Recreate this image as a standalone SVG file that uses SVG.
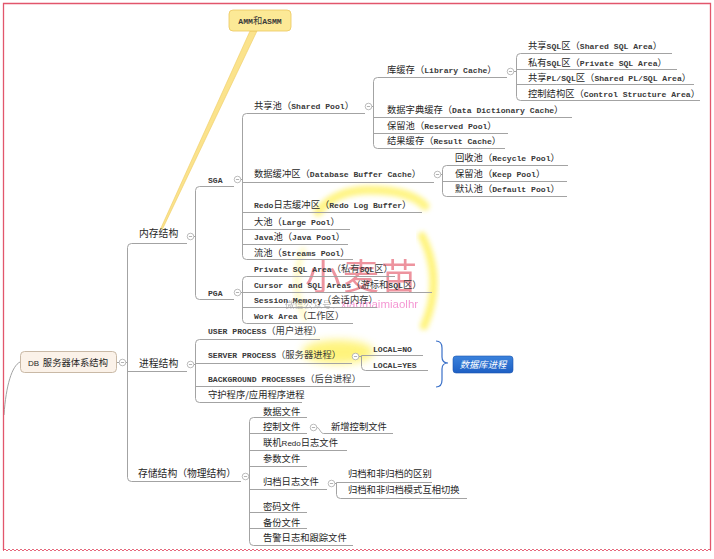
<svg xmlns="http://www.w3.org/2000/svg" xmlns:xlink="http://www.w3.org/1999/xlink" width="714" height="559" viewBox="0 0 714 559">
<defs>
<style>
text{fill:#262626}
.c{font-family:"Noto Sans CJK SC","Noto Sans",sans-serif;font-size:9.3px;font-weight:normal}
.m{font-family:"Liberation Mono","DejaVu Sans Mono",monospace;font-size:8.1px;font-weight:bold;fill:#3a3a3a}
.s{font-family:"Liberation Sans",Arial,sans-serif;font-size:8px}
.l1{font-size:9.8px}
.ln{fill:none;stroke:#a3a3a3;stroke-width:1}
.hl{fill:none;stroke:#fff266;stroke-linecap:round;filter:url(#blur)}
</style>
<filter id="blur" x="-50%" y="-50%" width="200%" height="200%"><feGaussianBlur stdDeviation="2.5"/></filter>
<filter id="blur2" x="-50%" y="-50%" width="200%" height="200%"><feGaussianBlur stdDeviation="4"/></filter>
<g id="col"><circle r="3.3" fill="#fff" stroke="#aaa" stroke-width="0.8"/><path d="M-1.6,0H1.6" stroke="#a0a0a0" stroke-width="0.8"/></g>
<pattern id="wave" x="0" y="548" width="4" height="4" patternUnits="userSpaceOnUse"><path d="M0,2 L1,1 L3,3 L4,2" fill="none" stroke="#e2566c" stroke-width="0.9"/></pattern>
<linearGradient id="blue" x1="0" y1="0" x2="0" y2="1"><stop offset="0" stop-color="#3b82dc"/><stop offset="1" stop-color="#1d5fc4"/></linearGradient>
</defs>
<rect width="714" height="559" fill="#fff"/>

<g id="highlights">
<path class="hl" d="M318,212 Q335,190 370,190 Q410,190 425,206" stroke-width="9" opacity="0.8"/>
<path class="hl" d="M422,236 Q444,280 424,326" stroke-width="8" opacity="0.85"/>
<path class="hl" d="M303,250 Q290,285 305,318" stroke-width="6" opacity="0.35"/>
<ellipse cx="338" cy="352" rx="36" ry="12" fill="#fff266" opacity="0.85" filter="url(#blur2)"/>
</g>

<g id="watermark">
<text x="305" y="290" font-family="'Noto Sans CJK SC',sans-serif" font-size="36" letter-spacing="2" style="fill:#e03c50" opacity="0.55">小麦苗</text>
<text x="285" y="308" opacity="0.7"><tspan class="c" font-size="9" style="fill:#999">微信公众号：</tspan><tspan font-family="'Liberation Sans',sans-serif" font-size="11.5" style="fill:#f06ac0">xiaomaimiaolhr</tspan></text>
</g>

<polygon points="250,31 257,31 162.5,229 160.5,229" fill="#fbe38c" stroke="#efcb62" stroke-width="0.6"/>

<g id="connectors">
<path class="ln" d="M20,362 C12,366 6,385 4,415" stroke="#9aa59a" stroke-width="0.8"/>
<path class="ln" d="M117,362.5H119M125.8,362.5H127.5"/>
<path class="ln" d="M131.5,243.5 Q127.5,243.5 127.5,247.5 V477.5 Q127.5,481.5 131.5,481.5 M131.5,243.5H187 M127.5,371.5H187 M131.5,481.5H241"/>
<path class="ln" d="M193.8,236.5H195.5 M199.5,186.5 Q195.5,186.5 195.5,190.5 V295.5 Q195.5,299.5 199.5,299.5 M199.5,186.5H234 M199.5,299.5H234"/>
<path class="ln" d="M240.8,179.5H242.5 M246.5,113.5 Q242.5,113.5 242.5,117.5 V255.5 Q242.5,259.5 246.5,259.5 M246.5,113.5H365 M242.5,182.5H434 M242.5,212.5H422 M242.5,229.5H350 M242.5,244.5H348 M246.5,259.5H353"/>
<path class="ln" d="M240.8,292.5H242.5 M246.5,276.5 Q242.5,276.5 242.5,280.5 V319.5 Q242.5,323.5 246.5,323.5 M246.5,276.5H395 M242.5,292.5H432 M242.5,307.5H377 M246.5,323.5H353"/>
<path class="ln" d="M371.8,106.5H373.5 M377.5,77.5 Q373.5,77.5 373.5,81.5 V144.5 Q373.5,148.5 377.5,148.5 M377.5,77.5H507 M373.5,117.5H572 M373.5,133.5H508 M377.5,148.5H505"/>
<path class="ln" d="M513.8,71.5H516.5 M520.5,53.5 Q516.5,53.5 516.5,57.5 V96.5 Q516.5,100.5 520.5,100.5 M520.5,53.5H672 M516.5,69.5H677 M516.5,84.5H694 M520.5,100.5H700"/>
<path class="ln" d="M440.8,174.5H442.5 M446.5,165.5 Q442.5,165.5 442.5,169.5 V192.5 Q442.5,196.5 446.5,196.5 M446.5,165.5H568 M442.5,181.5H567 M446.5,196.5H567"/>
<path class="ln" d="M193.8,364.5H195.5 M199.5,339.5 Q195.5,339.5 195.5,343.5 V398.5 Q195.5,402.5 199.5,402.5 M199.5,339.5H320 M195.5,363.5H352 M195.5,386.5H370 M199.5,402.5H302"/>
<path class="ln" d="M358.8,356.5H361.5 M361.5,355.5 V366.5 Q361.5,370.5 365.5,370.5 M361.5,355.5H423 M365.5,370.5H428"/>
<path class="ln" d="M248.8,476.5H249.5 M253.5,417.5 Q249.5,417.5 249.5,421.5 V541.5 Q249.5,545.5 253.5,545.5 M253.5,417.5H307 M249.5,433.5H307 M249.5,450.5H347 M249.5,466.5H307 M249.5,489.5H327 M249.5,512.5H307 M249.5,528.5H307 M253.5,545.5H353"/>
<path class="ln" d="M316.8,427.5 C319.5,427.5 320.5,433.5 323.5,433.5 H393"/>
<path class="ln" d="M334.8,483.5H336.5 M336.5,482.5 V494.5 Q336.5,498.5 340.5,498.5 M336.5,482.5H432 M340.5,498.5H467"/>
<path d="M436,341 Q442,341 442,348 L442,357 Q442,363 448,363 Q442,363 442,369 L442,380 Q442,387 436,387" fill="none" stroke="#3a70c8" stroke-width="1.2"/>
</g>

<g id="n-amm">
<rect x="229" y="10" width="62" height="21" rx="4" fill="#fce996" stroke="#ecc75e" stroke-width="0.8"/>
<text class="m" x="260" y="23.5" text-anchor="middle">AMM<tspan class="c">和</tspan>ASMM</text>
</g>

<g id="n-root">
<rect x="20.5" y="351.5" width="96" height="21" rx="4" fill="#fbf2e9" stroke="#c9b9a6" stroke-width="1"/>
<text class="s" x="28" y="365.5">DB <tspan class="c" dx="1.5">服务器体系结构</tspan></text>
<use xlink:href="#col" x="122.5" y="362.5"/>
</g>

<g id="n-mem"><text class="c l1" x="139" y="236.5">内存结构</text><use xlink:href="#col" x="190.5" y="236.5"/></g>
<g id="n-proc"><text class="c l1" x="139" y="366.5">进程结构</text><use xlink:href="#col" x="190.5" y="364.5"/></g>
<g id="n-stor"><text class="c l1" x="138" y="476.5">存储结构（物理结构）</text><use xlink:href="#col" x="245.5" y="476.5"/></g>

<g id="n-sga"><text class="m" x="208" y="182.5">SGA</text><use xlink:href="#col" x="237.5" y="179.5"/></g>
<g id="n-pga"><text class="m" x="208" y="295.5">PGA</text><use xlink:href="#col" x="237.5" y="292.5"/></g>

<g id="n-shared"><text class="c" x="254" y="108.5">共享池（<tspan class="m">Shared Pool</tspan>）</text><use xlink:href="#col" x="368.5" y="106.5"/></g>
<g id="n-dbbuf"><text class="c" x="254" y="176.5">数据缓冲区（<tspan class="m">Database Buffer Cache</tspan>）</text><use xlink:href="#col" x="437.5" y="174.5"/></g>
<g id="n-redo"><text class="c" x="254" y="207.5"><tspan class="m">Redo</tspan>日志缓冲区（<tspan class="m">Redo Log Buffer</tspan>）</text></g>
<g id="n-large"><text class="c" x="254" y="224.5">大池（<tspan class="m">Large Pool</tspan>）</text></g>
<g id="n-java"><text class="c" x="254" y="239.5"><tspan class="m">Java</tspan>池（<tspan class="m">Java Pool</tspan>）</text></g>
<g id="n-streams"><text class="c" x="254" y="255.5">流池（<tspan class="m">Streams Pool</tspan>）</text></g>

<g id="n-private"><text class="m" x="254" y="271.5">Private SQL Area<tspan class="c">（私有</tspan>SQL<tspan class="c">区）</tspan></text></g>
<g id="n-cursor"><text class="m" x="254" y="287.5">Cursor and SQL Areas<tspan class="c">（游标和</tspan>SQL<tspan class="c">区）</tspan></text></g>
<g id="n-session"><text class="m" x="254" y="302.5">Session Memory<tspan class="c">（会话内存）</tspan></text></g>
<g id="n-work"><text class="m" x="254" y="318.5">Work Area<tspan class="c">（工作区）</tspan></text></g>

<g id="n-lib"><text class="c" x="387" y="72.5">库缓存（<tspan class="m">Library Cache</tspan>）</text><use xlink:href="#col" x="510.5" y="71.5"/></g>
<g id="n-dict"><text class="c" x="387" y="112.5">数据字典缓存（<tspan class="m">Data Dictionary Cache</tspan>）</text></g>
<g id="n-reserved"><text class="c" x="387" y="128.5">保留池（<tspan class="m">Reserved Pool</tspan>）</text></g>
<g id="n-result"><text class="c" x="387" y="143.5">结果缓存（<tspan class="m">Result Cache</tspan>）</text></g>

<g id="n-sharedsql"><text class="c" x="528" y="48.5">共享<tspan class="m">SQL</tspan>区（<tspan class="m">Shared SQL Area</tspan>）</text></g>
<g id="n-privsql"><text class="c" x="528" y="65.5">私有<tspan class="m">SQL</tspan>区（<tspan class="m">Private SQL Area</tspan>）</text></g>
<g id="n-plsql"><text class="c" x="528" y="80.5">共享<tspan class="m">PL/SQL</tspan>区（<tspan class="m">Shared PL/SQL Area</tspan>）</text></g>
<g id="n-ctrl"><text class="c" x="528" y="96.5">控制结构区（<tspan class="m">Control Structure Area</tspan>）</text></g>

<g id="n-recycle"><text class="c" x="455" y="160.5">回收池（<tspan class="m">Recycle Pool</tspan>）</text></g>
<g id="n-keep"><text class="c" x="455" y="176.5">保留池（<tspan class="m">Keep Pool</tspan>）</text></g>
<g id="n-default"><text class="c" x="455" y="191.5">默认池（<tspan class="m">Default Pool</tspan>）</text></g>

<g id="n-user"><text class="m" x="208" y="333.5">USER PROCESS<tspan class="c">（用户进程）</tspan></text></g>
<g id="n-server"><text class="m" x="208" y="357.5">SERVER PROCESS<tspan class="c">（服务器进程）</tspan></text><use xlink:href="#col" x="355.5" y="356.5"/></g>
<g id="n-bg"><text class="m" x="208" y="381.5">BACKGROUND PROCESSES<tspan class="c">（后台进程）</tspan></text></g>
<g id="n-daemon"><text class="c" x="208" y="397.5">守护程序/应用程序进程</text></g>
<g id="n-localno"><text class="m" x="373" y="351.5">LOCAL=NO</text></g>
<g id="n-localyes"><text class="m" x="373" y="367.5">LOCAL=YES</text></g>
<g id="n-dbproc">
<rect x="453" y="356" width="60" height="17" rx="3" fill="url(#blue)" stroke="#1b55ae" stroke-width="0.6"/>
<text class="c" x="483" y="368" text-anchor="middle" font-style="italic" style="fill:#fff">数据库进程</text>
</g>

<g id="n-datafile"><text class="c" x="263" y="414.5">数据文件</text></g>
<g id="n-ctlfile"><text class="c" x="263" y="429.5">控制文件</text><use xlink:href="#col" x="313.5" y="427.5"/></g>
<g id="n-newctl"><text class="c" x="331" y="429.5">新增控制文件</text></g>
<g id="n-redolog"><text class="c" x="263" y="445.5">联机<tspan class="s">Redo</tspan>日志文件</text></g>
<g id="n-param"><text class="c" x="263" y="461.5">参数文件</text></g>
<g id="n-arch"><text class="c" x="263" y="484.5">归档日志文件</text><use xlink:href="#col" x="331.5" y="483.5"/></g>
<g id="n-archdiff"><text class="c" x="348" y="476.5">归档和非归档的区别</text></g>
<g id="n-archswitch"><text class="c" x="348" y="492.5">归档和非归档模式互相切换</text></g>
<g id="n-pwd"><text class="c" x="263" y="509.5">密码文件</text></g>
<g id="n-backup"><text class="c" x="263" y="525.5">备份文件</text></g>
<g id="n-alert"><text class="c" x="263" y="540.5">告警日志和跟踪文件</text></g>

<g id="frame">
<path d="M3.5,550 V3.5 H710.5 V550" fill="none" stroke="#e2566c" stroke-width="1.3"/>
<rect x="3" y="548" width="708" height="4" fill="url(#wave)"/>
</g>
</svg>
